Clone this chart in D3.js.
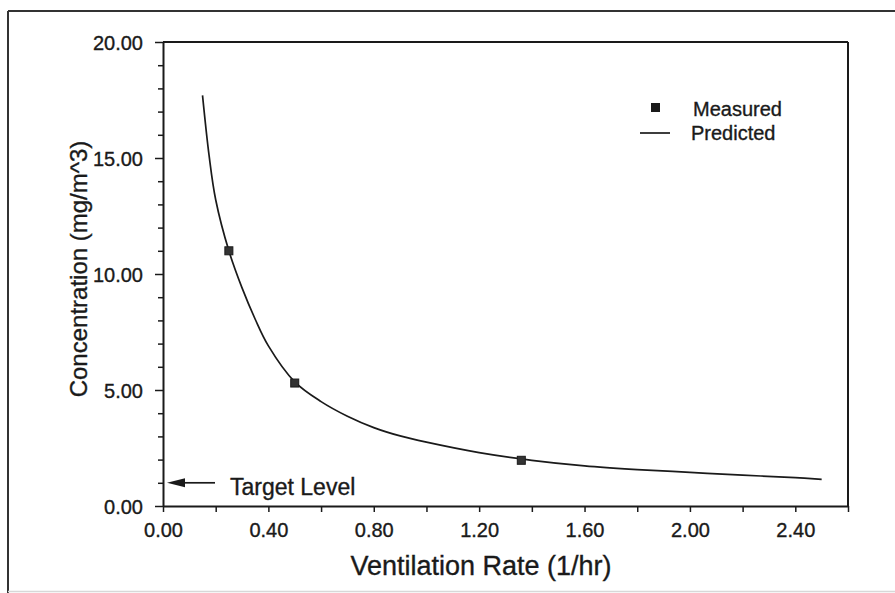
<!DOCTYPE html>
<html>
<head>
<meta charset="utf-8">
<script src="https://cdn.jsdelivr.net/npm/d3@7"></script>
<style>
  html, body { margin: 0; padding: 0; background: #fff; }
  svg { display: block; }
  svg text { font-family: "Liberation Sans", Arial, Helvetica, sans-serif; stroke: #1a1a1a; stroke-width: 0.35px; }
</style>
</head>
<body>
<svg id="chart" width="895" height="593"></svg>
<script>
// ---- data ----
const xTickValues = [0, 0.2, 0.4, 0.6, 0.8, 1.0, 1.2, 1.4, 1.6, 1.8, 2.0, 2.2, 2.4, 2.6];
const xTickLabels = ["0.00", "0.40", "0.80", "1.20", "1.60", "2.00", "2.40"];
const yTickValues = [0,1,2,3,4,5,6,7,8,9,10,11,12,13,14,15,16,17,18,19,20];
const yTickLabels = ["0.00", "5.00", "10.00", "15.00", "20.00"];

const measuredX = [0.25, 0.50, 1.36];
const measuredY = [11.0, 5.3, 1.97];

const predictedX = [0.15, 0.175, 0.20, 0.25, 0.30, 0.35, 0.40, 0.50, 0.60, 0.70, 0.80, 0.90, 1.00, 1.20, 1.40, 1.60, 1.80, 2.00, 2.20, 2.40, 2.50];
const predictedY = [17.7, 15.1, 13.2, 11.0, 9.4, 8.05, 6.9, 5.35, 4.5, 3.87, 3.38, 3.02, 2.75, 2.3, 1.97, 1.73, 1.57, 1.45, 1.33, 1.22, 1.15];

const targetLevel = 1.0;
const legendItems = ["Measured", "Predicted"];

// ---- layout ----
const svg = d3.select("#chart");
const mLeft = 163, mRight = 848, mTop = 42, mBottom = 506;
const ink = "#1a1a1a";

const x = d3.scaleLinear().domain([0, 2.6]).range([mLeft, mRight]);
const y = d3.scaleLinear().domain([0, 20]).range([mBottom, mTop]);

// outer frame
svg.append("line").attr("x1", 8).attr("x2", 8).attr("y1", 11).attr("y2", 593)
  .attr("stroke", "#333").attr("stroke-width", 2);
svg.append("line").attr("x1", 8).attr("x2", 895).attr("y1", 11).attr("y2", 11)
  .attr("stroke", "#333").attr("stroke-width", 2);
svg.append("line").attr("x1", 8).attr("x2", 895).attr("y1", 591.5).attr("y2", 591.5)
  .attr("stroke", "#d8d8d8").attr("stroke-width", 1.5);

// plot box top & right
svg.append("line").attr("x1", mLeft).attr("x2", mRight).attr("y1", mTop).attr("y2", mTop)
  .attr("stroke", ink).attr("stroke-width", 2);
svg.append("line").attr("x1", mRight).attr("x2", mRight).attr("y1", mTop).attr("y2", mBottom)
  .attr("stroke", ink).attr("stroke-width", 2);

// x axis
const xLabelMap = new Map(xTickLabels.map(s => [(+s).toFixed(2), s]));
const xAxis = d3.axisBottom(x).tickValues(xTickValues).tickSize(6).tickSizeOuter(0)
  .tickFormat(d => xLabelMap.get(d.toFixed(2)) || "");
const gx = svg.append("g").attr("transform", `translate(0,${mBottom})`).call(xAxis)
  .attr("font-family", null);
gx.select(".domain").attr("stroke", ink).attr("stroke-width", 2);
gx.selectAll(".tick line").attr("stroke", ink).attr("stroke-width", 1.5);
gx.selectAll(".tick text").attr("fill", ink).attr("font-size", 20)
  .attr("y", 0).attr("dy", null).attr("transform", "translate(0,31)");

// y axis
const yLabelMap = new Map(yTickLabels.map(s => [(+s).toFixed(2), s]));
const yAxis = d3.axisLeft(y).tickValues(yTickValues).tickSize(5).tickSizeOuter(0)
  .tickFormat(d => yLabelMap.get(d.toFixed(2)) || "");
const gy = svg.append("g").attr("transform", `translate(${mLeft},0)`).call(yAxis)
  .attr("font-family", null);
gy.select(".domain").attr("stroke", ink).attr("stroke-width", 2);
gy.selectAll(".tick line").attr("stroke", ink).attr("stroke-width", 1.5)
  .attr("x2", d => (d % 5 === 0 ? -8 : -5));
gy.selectAll(".tick text").attr("fill", ink).attr("font-size", 20)
  .attr("x", -20).attr("dy", "0.35em");

// axis titles
svg.append("text").attr("x", 481).attr("y", 575)
  .attr("text-anchor", "middle").attr("font-size", 27).attr("fill", ink)
  .text("Ventilation Rate (1/hr)");
svg.append("text").attr("transform", "translate(87,269) rotate(-90)")
  .attr("text-anchor", "middle").attr("font-size", 24).attr("fill", ink)
  .text("Concentration (mg/m^3)");

// predicted curve
const pts = predictedX.map((v, i) => [v, predictedY[i]]);
const line = d3.line().x(d => x(d[0])).y(d => y(d[1])).curve(d3.curveCatmullRom.alpha(0.5));
svg.append("path").attr("d", line(pts)).attr("fill", "none")
  .attr("stroke", ink).attr("stroke-width", 1.7);

// measured points
const ms = 8;
svg.selectAll("rect.meas").data(measuredX.map((v, i) => [v, measuredY[i]]))
  .enter().append("rect").attr("class", "meas")
  .attr("x", d => x(d[0]) - ms / 2).attr("y", d => y(d[1]) - ms / 2)
  .attr("width", ms).attr("height", ms)
  .attr("fill", "#333").attr("stroke", ink).attr("stroke-width", 1);

// target level arrow
const ty = y(targetLevel);
svg.append("line").attr("x1", x(0) + 20).attr("x2", x(0) + 52).attr("y1", ty).attr("y2", ty)
  .attr("stroke", ink).attr("stroke-width", 1.7);
svg.append("path")
  .attr("d", `M${x(0) + 4},${ty} L${x(0) + 22},${ty - 4.5} L${x(0) + 22},${ty + 4.5} Z`)
  .attr("fill", ink);
svg.append("text").attr("x", 230).attr("y", 495).attr("font-size", 23).attr("fill", ink)
  .text("Target Level");

// legend
svg.append("rect").attr("x", 651).attr("y", 103).attr("width", 9).attr("height", 9)
  .attr("fill", ink);
svg.append("text").attr("x", 693).attr("y", 116).attr("font-size", 20).attr("fill", ink)
  .text(legendItems[0]);
svg.append("line").attr("x1", 640).attr("x2", 670).attr("y1", 133).attr("y2", 133)
  .attr("stroke", ink).attr("stroke-width", 1.7);
svg.append("text").attr("x", 691).attr("y", 140).attr("font-size", 20).attr("fill", ink)
  .text(legendItems[1]);
</script>
</body>
</html>
